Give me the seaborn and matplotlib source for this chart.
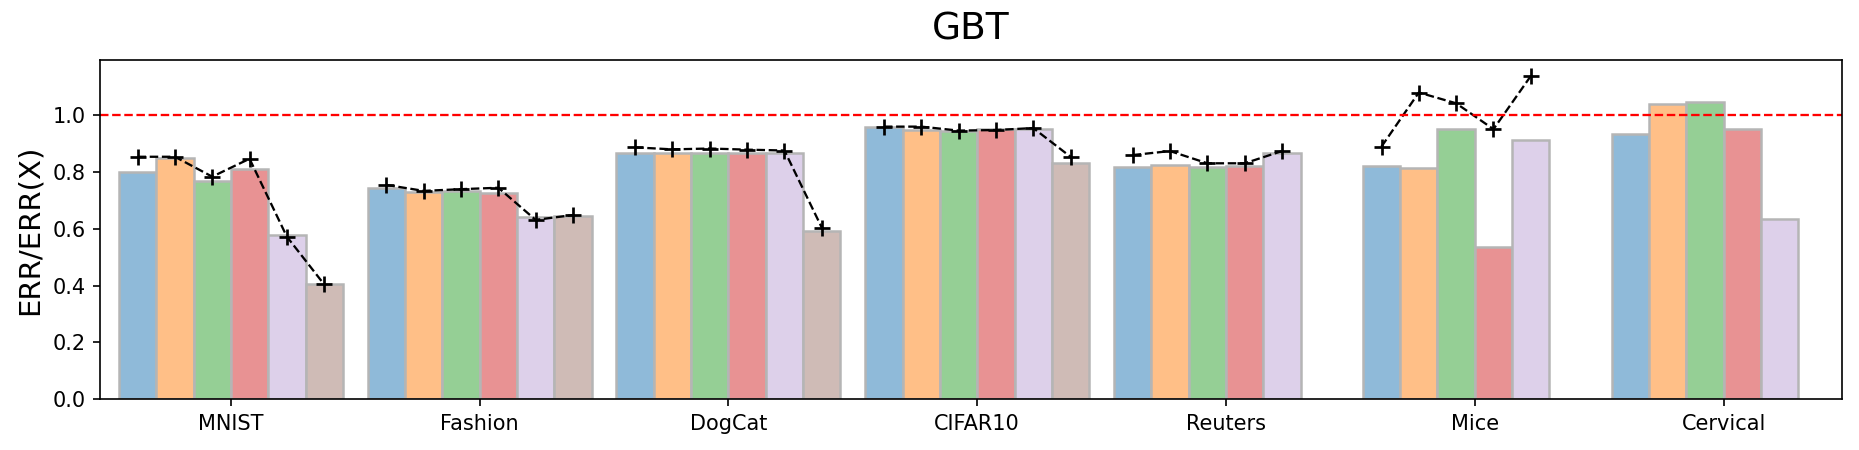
"""GBT relative error chart: ERR/ERR(X) per dataset, bars per method with a
dashed reference series on top."""
import matplotlib
matplotlib.use("Agg")
import matplotlib.pyplot as plt
import numpy as np
import pandas as pd
import seaborn as sns

# -- Data ----------------------------------------------------------------------
DATASETS = ["MNIST", "Fashion", "DogCat", "CIFAR10", "Reuters", "Mice", "Cervical"]
METHODS = ["m1", "m2", "m3", "m4", "m5", "m6"]

# bar heights, one list per dataset (NaN = method not run)
nan = np.nan
BARS_MNIST = [0.800, 0.848, 0.769, 0.811, 0.577, 0.404]
BARS_FASHION = [0.742, 0.730, 0.734, 0.727, 0.642, 0.645]
BARS_DOGCAT = [0.867, 0.867, 0.867, 0.865, 0.867, 0.593]
BARS_CIFAR10 = [0.959, 0.947, 0.945, 0.950, 0.950, 0.832]
BARS_REUTERS = [0.816, 0.824, 0.818, 0.821, 0.867, nan]
BARS_MICE = [0.822, 0.812, 0.951, 0.537, 0.912, nan]
BARS_CERVICAL = [0.933, 1.039, 1.045, 0.951, 0.634, nan]

# dashed "+" series
LINE_MNIST = [0.853, 0.853, 0.783, 0.846, 0.572, 0.404]
LINE_FASHION = [0.754, 0.733, 0.739, 0.744, 0.631, 0.648]
LINE_DOGCAT = [0.886, 0.879, 0.882, 0.878, 0.875, 0.604]
LINE_CIFAR10 = [0.959, 0.959, 0.945, 0.947, 0.954, 0.853]
LINE_REUTERS = [0.859, 0.873, 0.830, 0.830, 0.873, nan]
LINE_MICE = [0.889, 1.079, 1.041, 0.950, 1.137, nan]
LINE_CERVICAL = [nan, nan, nan, nan, nan, nan]

COLORS = ["#8fbad9", "#ffbf87", "#95cf95", "#e89293", "#ddd0ea", "#cfbbb6"]

BAR_WIDTH = 0.9
DPI = 150

# -- Build table ---------------------------------------------------------------
bars = [BARS_MNIST, BARS_FASHION, BARS_DOGCAT, BARS_CIFAR10,
        BARS_REUTERS, BARS_MICE, BARS_CERVICAL]
lines = [LINE_MNIST, LINE_FASHION, LINE_DOGCAT, LINE_CIFAR10,
         LINE_REUTERS, LINE_MICE, LINE_CERVICAL]

rows = []
for ds, vals in zip(DATASETS, bars):
    for m, v in zip(METHODS, vals):
        rows.append({"dataset": ds, "method": m, "ratio": v})
df = pd.DataFrame(rows).dropna()

# -- Plot ----------------------------------------------------------------------
fig, ax = plt.subplots(figsize=(1859 / DPI, 450 / DPI), dpi=DPI)
sns.barplot(
    data=df, x="dataset", y="ratio", hue="method",
    order=DATASETS, hue_order=METHODS, palette=COLORS,
    width=BAR_WIDTH, errorbar=None, saturation=1,
    edgecolor="#b5b5b5", linewidth=1.2, legend=False, ax=ax,
)

step = BAR_WIDTH / len(METHODS)
offsets = (np.arange(len(METHODS)) - (len(METHODS) - 1) / 2) * step
for i, vals in enumerate(lines):
    ax.plot(i + offsets, vals, color="black", linestyle="--",
            linewidth=1.1, marker="+", markersize=8, markeredgewidth=1.3)

ax.axhline(1.0, color="red", linestyle="--", linewidth=1.1)

ymax = np.nanmax(np.array(bars + lines, dtype=float))
ax.set_ylim(0, ymax * 1.05)
ax.set_xlim(-0.526, 6.477)
ax.set_yticks([0.0, 0.2, 0.4, 0.6, 0.8, 1.0])
ax.set_xlabel("")
ax.set_ylabel("ERR/ERR(X)", fontsize=14)
ax.set_title("GBT", fontsize=18, pad=10)
ax.tick_params(labelsize=10)

fig.subplots_adjust(left=0.0538, right=0.991, top=0.867, bottom=0.1127)
fig.savefig("out.png", dpi=DPI)
plt.close(fig)
